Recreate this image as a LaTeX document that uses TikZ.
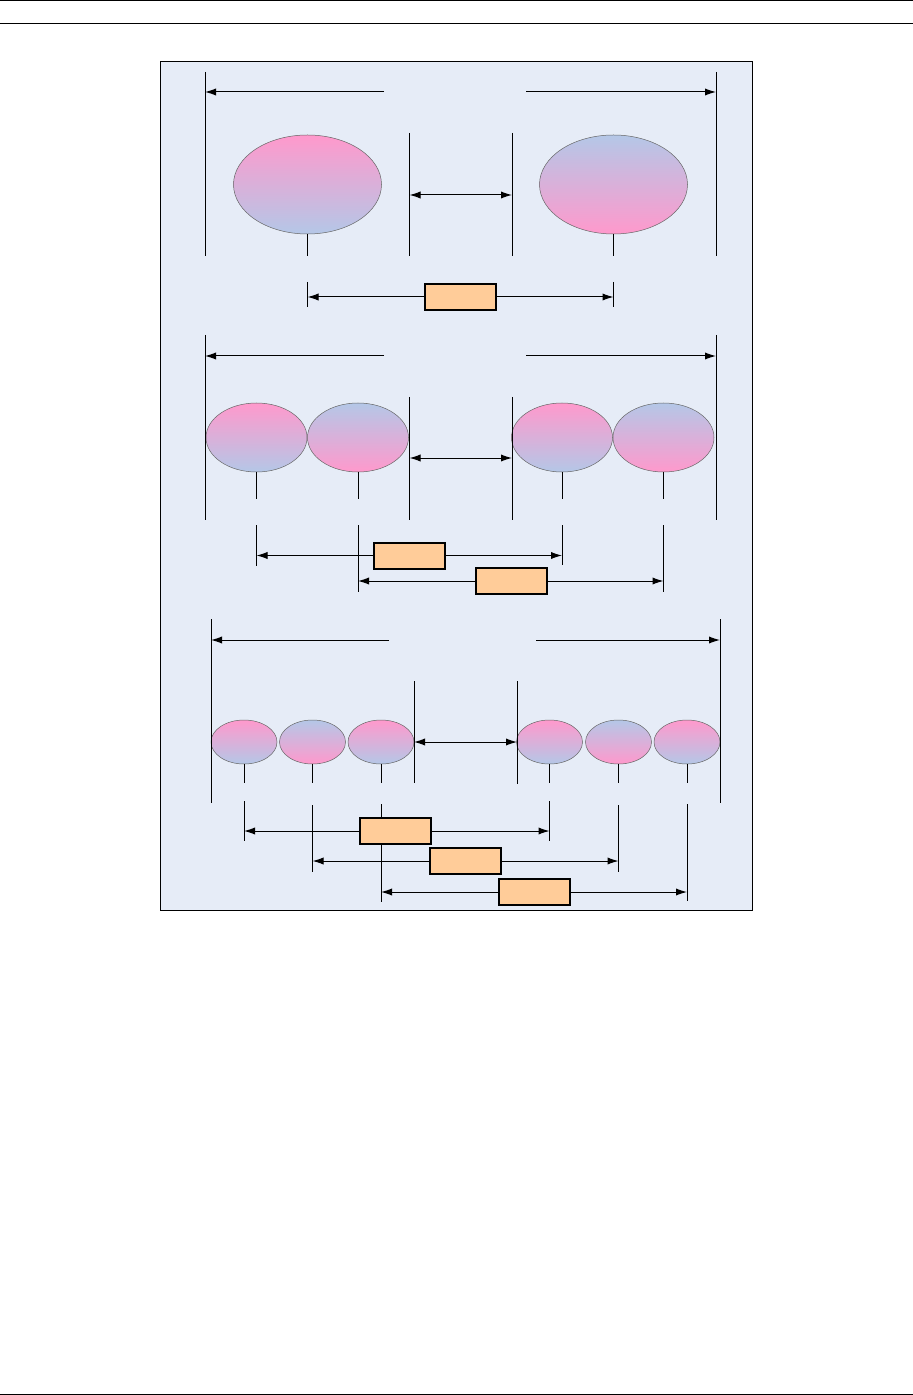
\documentclass[tikz,border=0pt]{standalone}
\usepackage{tikz}
\usetikzlibrary{arrows.meta,shapes.geometric,positioning}
\definecolor{pagebg}{RGB}{230,236,247}
\definecolor{blobpink}{RGB}{255,153,204}
\definecolor{blobblue}{RGB}{180,199,231}
\definecolor{gapfill}{RGB}{255,204,153}
\tikzset{
    pinkup/.style={
    ellipse,draw=black!60,line width=0.25pt,inner sep=0pt,top color=blobpink,bottom color=blobblue
    },
    blueup/.style={
    ellipse,draw=black!60,line width=0.25pt,inner sep=0pt,top color=blobblue,bottom color=blobpink
    },
    bigblob/.style={minimum width=74pt,minimum height=49.5pt},
    midblob/.style={minimum width=50.5pt,minimum height=34.5pt},
    smallblob/.style={minimum width=33pt,minimum height=22pt},
    gapbox/.style={
    rectangle,draw=black,line width=1pt,fill=gapfill,minimum width=35.5pt,minimum height=13pt,inner sep=0pt
    },
    guide/.style={
    draw=black,line width=0.5pt
    },
}
\begin{document}
\begin{tikzpicture}[x=0.5pt,y=-0.5pt,line width=0.5pt,>={Latex[length=5.5pt,width=3.6pt]}]
  \useasboundingbox (0,0) rectangle (913,1395);
  % page rules and frame
  \draw (0,0.5) -- (913,0.5);
  \draw (0,24) -- (913,24);
  \draw (0,1394) -- (913,1394);
  \draw[fill=pagebg] (160,62) rectangle (752,910);

  % row 1: two big blobs
  \node[pinkup,bigblob] (a1) at (307.5,184.5) {};
  \node[blueup,bigblob] (a2) at (613.5,184.5) {};
  \node[gapbox] (ab) at (460,297) {};
  \coordinate (aw) at (384,92);
  \coordinate (ae) at (526,92);
  \coordinate (am) at (409.5,195);
  \coordinate (an) at (512,195);
  \draw[guide] (205,72) -- (205,256) (716,72) -- (716,256)
               (am |- 0,133) -- (am |- 0,256) (an |- 0,133) -- (an |- 0,256);
  \draw[guide] (a1.south) -- (a1 |- 0,256) (a2.south) -- (a2 |- 0,256)
               (a1 |- 0,282) -- (a1 |- 0,307) (a2 |- 0,282) -- (a2 |- 0,307);
  \path[->]
    (aw) edge (205,92)
    (ae) edge (716,92)
    (ab) edge (ab -| a1)
         edge (ab -| a2);
  \path[<->] (am) edge (an);

  % row 2: four middle blobs
  \node[pinkup,midblob] (b1) at (256.5,437.5) {};
  \node[blueup,midblob] (b2) at (358,437.5) {};
  \node[pinkup,midblob] (b3) at (562,437.5) {};
  \node[blueup,midblob] (b4) at (663.5,437.5) {};
  \node[gapbox] (bA) at (409.5,555.5) {};
  \node[gapbox] (bB) at (511,581) {};
  \coordinate (bw) at (384,356);
  \coordinate (be) at (526,356);
  \coordinate (bm) at (409.5,458);
  \coordinate (bn) at (512,458);
  \draw[guide] (205,335) -- (205,520) (716,335) -- (716,520)
               (bm |- 0,397) -- (bm |- 0,520) (bn |- 0,397) -- (bn |- 0,520);
  \draw[guide] (b1.south) -- (b1 |- 0,499) (b2.south) -- (b2 |- 0,499)
               (b3.south) -- (b3 |- 0,499) (b4.south) -- (b4 |- 0,499);
  \draw[guide] (b1 |- 0,525) -- (b1 |- 0,566) (b2 |- 0,525) -- (b2 |- 0,592)
               (b3 |- 0,525) -- (b3 |- 0,565) (b4 |- 0,525) -- (b4 |- 0,592);
  \path[->]
    (bw) edge (205,356)
    (be) edge (716,356)
    (bA) edge (bA -| b1)
         edge (bA -| b3)
    (bB) edge (bB -| b2)
         edge (bB -| b4);
  \path[<->] (bm) edge (bn);

  % row 3: six small blobs
  \node[pinkup,smallblob] (c1) at (244,742) {};
  \node[blueup,smallblob] (c2) at (312.5,742) {};
  \node[pinkup,smallblob] (c3) at (381,742) {};
  \node[pinkup,smallblob] (c4) at (549.5,742) {};
  \node[blueup,smallblob] (c5) at (618.5,742) {};
  \node[pinkup,smallblob] (c6) at (687,742) {};
  \coordinate (cw) at (389,640);
  \coordinate (ce) at (536,640);
  \coordinate (cm) at (414,742);
  \coordinate (cn) at (517,742);
  \draw[guide] (211,619) -- (211,803) (720,619) -- (720,803)
               (cm |- 0,681) -- (cm |- 0,783) (cn |- 0,681) -- (cn |- 0,784);
  \draw[guide] (c1.south) -- (c1 |- 0,783) (c2.south) -- (c2 |- 0,783)
               (c3.south) -- (c3 |- 0,783) (c4.south) -- (c4 |- 0,783)
               (c5.south) -- (c5 |- 0,783) (c6.south) -- (c6 |- 0,783);
  \draw[guide] (c1 |- 0,801) -- (c1 |- 0,841) (c4 |- 0,801) -- (c4 |- 0,841)
               (c2 |- 0,805) -- (c2 |- 0,872) (c5 |- 0,805) -- (c5 |- 0,872)
               (c3 |- 0,804) -- (c3 |- 0,902) (c6 |- 0,804) -- (c6 |- 0,901);
  \node[gapbox] (cA) at (395.5,831) {};
  \node[gapbox] (cB) at (465,861) {};
  \node[gapbox] (cC) at (534.5,892) {};
  \path[->]
    (cw) edge (211,640)
    (ce) edge (720,640)
    (cA) edge (cA -| c1)
         edge (cA -| c4)
    (cB) edge (cB -| c2)
         edge (cB -| c5)
    (cC) edge (cC -| c3)
         edge (cC -| c6);
  \path[<->] (cm) edge (cn);
\end{tikzpicture}
\end{document}
